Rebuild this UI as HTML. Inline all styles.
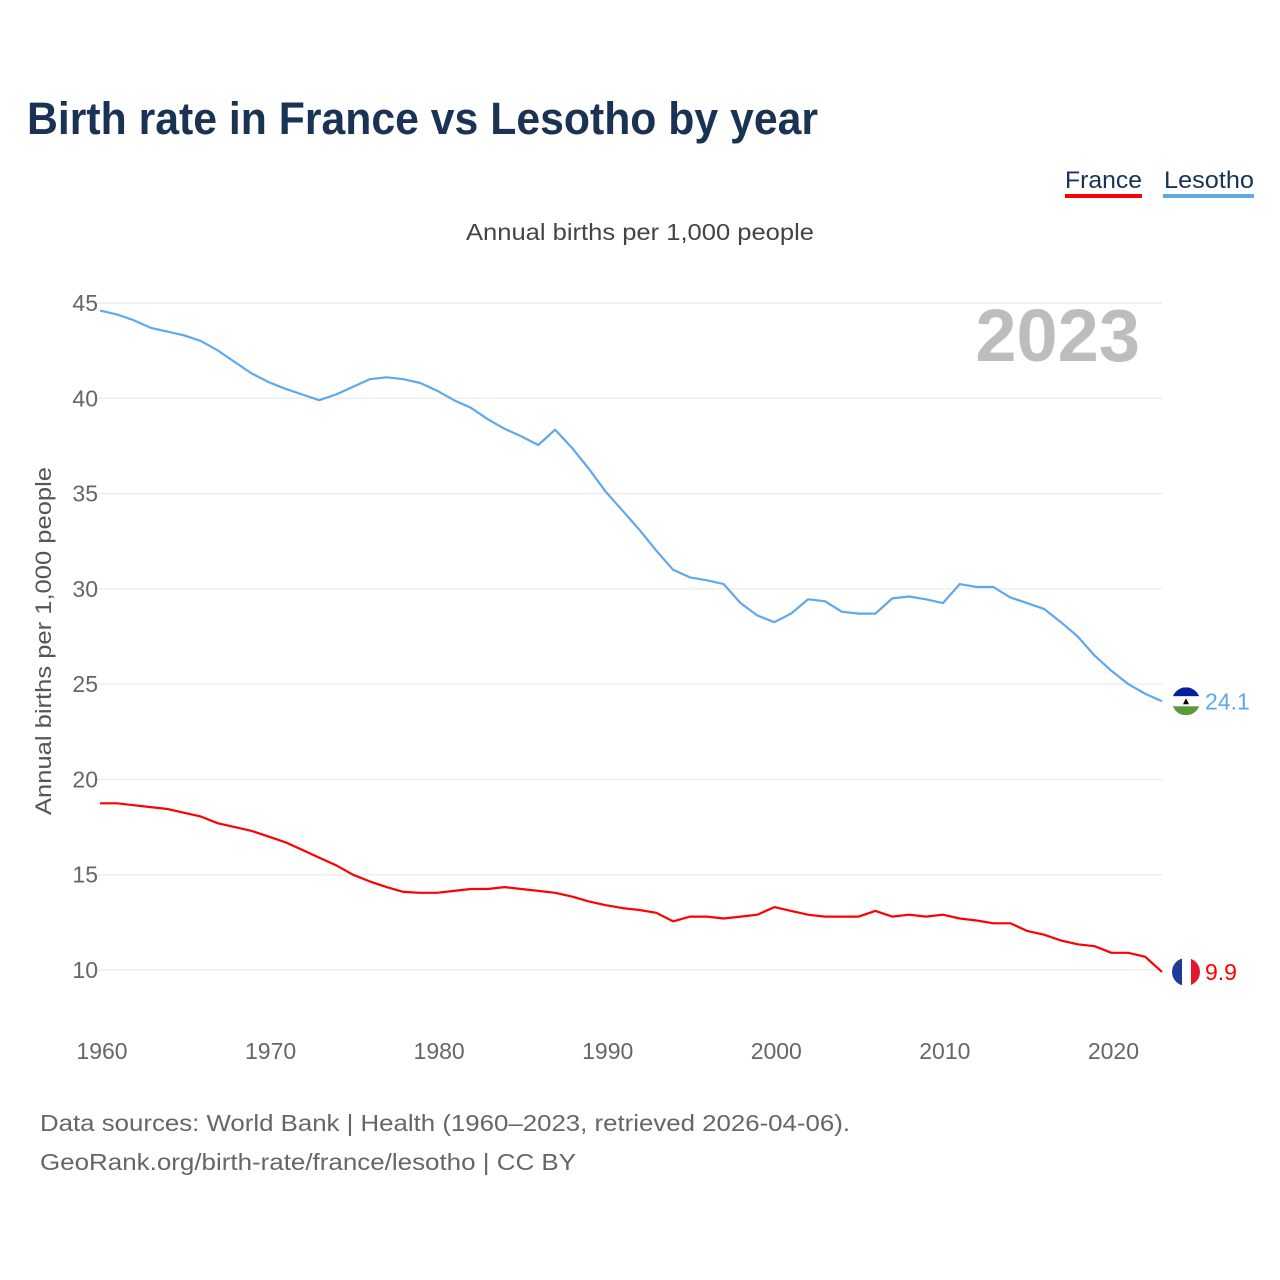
<!DOCTYPE html>
<html><head><meta charset="utf-8">
<style>
body{margin:0;background:#fff;font-family:"Liberation Sans",sans-serif;}
#wrap{position:relative;width:1280px;height:1280px;overflow:hidden;}
</style></head>
<body>
<div id="wrap">
<svg id="chart" width="1280" height="1280" xmlns="http://www.w3.org/2000/svg">
  <text x="27" y="134" font-size="45" font-weight="bold" fill="#1a3354" textLength="791" lengthAdjust="spacingAndGlyphs">Birth rate in France vs Lesotho by year</text>
  <g>
    <text x="1065" y="188" font-size="24" fill="#1a3354" textLength="77" lengthAdjust="spacingAndGlyphs">France</text>
    <rect x="1065" y="194" width="77" height="4" fill="#ff0000"/>
  </g>
  <g>
    <text x="1164" y="188" font-size="24" fill="#1a3354" textLength="90" lengthAdjust="spacingAndGlyphs">Lesotho</text>
    <rect x="1163" y="194" width="91" height="4" fill="#5ea8ec"/>
  </g>
  <text x="466" y="240" font-size="23" fill="#444" textLength="348" lengthAdjust="spacingAndGlyphs">Annual births per 1,000 people</text>
  <text x="1140" y="361" font-size="74" font-weight="bold" fill="#bdbdbd" text-anchor="end">2023</text>
  <text transform="translate(51,815) rotate(-90)" font-size="22" fill="#555" textLength="348" lengthAdjust="spacingAndGlyphs">Annual births per 1,000 people</text>
  <g id="grid"></g><g id="yticks"></g><g id="xticks"></g><g id="lines"></g><g id="ends"></g>
  <text x="40" y="1131" font-size="23" fill="#666" textLength="810" lengthAdjust="spacingAndGlyphs">Data sources: World Bank | Health (1960–2023, retrieved 2026-04-06).</text>
  <text x="40" y="1170" font-size="23" fill="#666" textLength="536" lengthAdjust="spacingAndGlyphs">GeoRank.org/birth-rate/france/lesotho | CC BY</text>
</svg>
</div>
<script>
const years = [];
for (let y = 1960; y <= 2023; y++) years.push(y);
const lesotho = [44.6,44.4,44.1,43.7,43.5,43.3,43.0,42.5,41.9,41.3,40.85,40.5,40.2,39.9,40.2,40.6,41.0,41.1,41.0,40.8,40.4,39.9,39.5,38.9,38.4,38.0,37.55,38.35,37.4,36.3,35.1,34.1,33.1,32.0,31.0,30.6,30.45,30.25,29.25,28.6,28.25,28.7,29.45,29.35,28.8,28.7,28.7,29.5,29.6,29.45,29.25,30.25,30.1,30.1,29.55,29.25,28.95,28.25,27.5,26.5,25.7,25.0,24.5,24.1];
const france = [18.75,18.75,18.65,18.55,18.45,18.25,18.05,17.7,17.5,17.3,17.0,16.7,16.3,15.9,15.5,15.0,14.65,14.35,14.1,14.05,14.05,14.15,14.25,14.25,14.35,14.25,14.15,14.05,13.85,13.6,13.4,13.25,13.15,13.0,12.55,12.8,12.8,12.7,12.8,12.9,13.3,13.1,12.9,12.8,12.8,12.8,13.1,12.8,12.9,12.8,12.9,12.7,12.6,12.45,12.45,12.05,11.85,11.55,11.35,11.25,10.9,10.9,10.7,9.9];
const yTicks = [10,15,20,25,30,35,40,45];
const xTicks = [1960,1970,1980,1990,2000,2010,2020];

const NS = "http://www.w3.org/2000/svg";
const xS = yr => 100 + (yr - 1960) * (1062 / 63);
const yS = v => 970 - (v - 10) * (667 / 35);
function mk(tag, attrs, parent, txt) {
  const e = document.createElementNS(NS, tag);
  for (const k in attrs) e.setAttribute(k, attrs[k]);
  if (txt !== undefined) e.textContent = txt;
  document.getElementById(parent).appendChild(e);
  return e;
}
yTicks.forEach(t => {
  const g = mk("line", {x1: 95, x2: 1162, y1: yS(t), y2: yS(t), stroke: "#e6e6e6", "stroke-width": 1}, "grid");
  
  
  const l = mk("text", {x: 98, y: yS(t) + 8, "font-size": 23, fill: "#666", "text-anchor": "end"}, "yticks", String(t));
  
  
});
xTicks.forEach(t => {
  const l = mk("text", {x: xS(t) + 2, y: 1059, "font-size": 23, fill: "#666", "text-anchor": "middle"}, "xticks", String(t));
  
  
});
function line(vals, color, name) {
  const d = vals.map((v, i) => (i ? "L" : "M") + xS(years[i]).toFixed(1) + "," + yS(v).toFixed(1)).join("");
  const p = mk("path", {d: d, fill: "none", stroke: color, "stroke-width": 2.2, "stroke-linejoin": "round"}, "lines");
  
  
}
line(lesotho, "#5ea8ec", "lesotho-line");
line(france, "#ff0000", "france-line");

const last = years.length - 1;
const lx = 1186;
const ly = yS(lesotho[last]);
const fy = yS(france[last]);
const ends = document.getElementById("ends");
const lf = document.createElementNS(NS, "g");


lf.innerHTML = `<clipPath id="cl"><circle cx="${lx}" cy="${ly}" r="14"/></clipPath>
<g clip-path="url(#cl)"><rect x="${lx-14}" y="${ly-14}" width="28" height="9" fill="#00209f"/>
<rect x="${lx-14}" y="${ly-5}" width="28" height="10" fill="#fff"/>
<rect x="${lx-14}" y="${ly+5}" width="28" height="9" fill="#5b9a3a"/>
<path d="M${lx-3},${ly+3} L${lx+3},${ly+3} L${lx},${ly-3}Z" fill="#000"/></g>`;
ends.appendChild(lf);
const ff = document.createElementNS(NS, "g");


ff.innerHTML = `<clipPath id="cf"><circle cx="${lx}" cy="${fy}" r="14"/></clipPath>
<g clip-path="url(#cf)"><rect x="${lx-14}" y="${fy-14}" width="10" height="28" fill="#1f3b9a"/>
<rect x="${lx-4}" y="${fy-14}" width="9" height="28" fill="#fff"/>
<rect x="${lx+5}" y="${fy-14}" width="9" height="28" fill="#e1172f"/></g>`;
ends.appendChild(ff);
const lv = mk("text", {x: 1205, y: ly + 8, "font-size": 23, fill: "#5ea8ec"}, "ends", String(lesotho[last]));


const fv = mk("text", {x: 1205, y: fy + 8, "font-size": 23, fill: "#ff0000"}, "ends", String(france[last]));


</script>
</body></html>
